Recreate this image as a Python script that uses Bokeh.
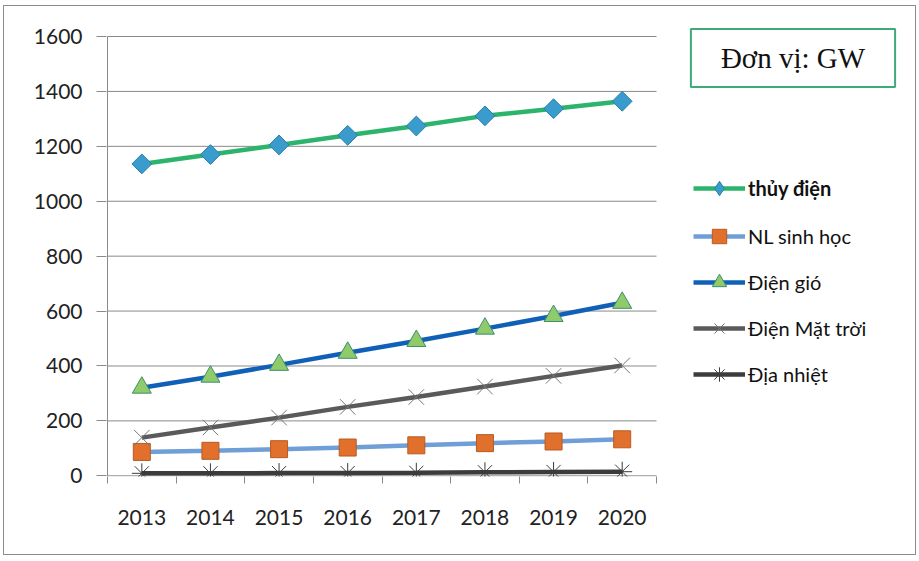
from bokeh.plotting import figure
from bokeh.models import Legend, LegendItem, Label, FixedTicker, Range1d
from bokeh.embed import file_html
from bokeh.resources import INLINE

years = [2013, 2014, 2015, 2016, 2017, 2018, 2019, 2020]
thuy_dien = [1136, 1170, 1205, 1240, 1274, 1311, 1337, 1364]
nl_sinh_hoc = [87, 91, 97, 103, 111, 119, 125, 133]
dien_gio = [321, 361, 404, 448, 491, 536, 582, 630]
dien_mat_troi = [139, 176, 212, 251, 287, 325, 364, 402]
dia_nhiet = [9, 9, 10, 10, 11, 13, 14, 15]
y_ticks = [0, 200, 400, 600, 800, 1000, 1200, 1400, 1600]
series_names = ["thủy điện", "NL sinh học", "Điện gió", "Điện Mặt trời", "Địa nhiệt"]
unit_text = "Đơn vị: GW"

FONT = "Lato"
GRID = "#8a8a8a"

x_lo = years[0] - 0.5
x_hi = years[-1] + 0.5
px_per_year = 549 / len(years)
# frame is wider and taller than the data area, so the legend and unit box sit inside it
frame_w = 913 - 102 - 8
x_start = x_lo - 1 / px_per_year
x_end = x_start + frame_w / px_per_year
px_per_unit = 440 / 1602.5
y_start = -2.5
y_end = y_start + 454 / px_per_unit

p = figure(width=913, height=550, output_backend="svg", toolbar_location=None,
           x_range=Range1d(x_start, x_end), y_range=Range1d(y_start, y_end),
           min_border_left=102, min_border_right=8, min_border_top=16, min_border_bottom=80)
p.styles = {"border": "1px solid #8c8c8c", "margin-left": "3px", "margin-top": "5px"}
p.outline_line_color = None
p.background_fill_color = "white"
p.border_fill_color = "white"

p.xgrid.grid_line_color = None
p.ygrid.grid_line_color = None

# horizontal grid lines (and the zero line) over the category span only
p.segment(x0=[x_lo] * len(y_ticks), x1=[x_hi] * len(y_ticks), y0=y_ticks, y1=y_ticks,
          line_color=GRID, line_width=1)
# vertical axis line from 0 to the top tick
p.segment(x0=[x_lo], x1=[x_lo], y0=[y_ticks[0]], y1=[y_ticks[-1]], line_color=GRID, line_width=1)

p.yaxis.ticker = FixedTicker(ticks=y_ticks)
p.yaxis.axis_line_color = None
p.yaxis.major_tick_line_color = GRID
p.yaxis.major_tick_out = 10
p.yaxis.major_tick_in = 0
p.yaxis.minor_tick_line_color = None
p.yaxis.major_label_text_font = FONT
p.yaxis.major_label_text_font_size = "21px"
p.yaxis.major_label_text_color = "#222222"
p.yaxis.major_label_standoff = 14

boundaries = [y - 0.5 for y in years] + [x_hi]
p.xaxis.ticker = FixedTicker(ticks=years, minor_ticks=boundaries)
p.xaxis.major_label_overrides = {y: str(y) for y in years}
p.xaxis.axis_line_color = None
p.xaxis.major_tick_line_color = None
p.xaxis.minor_tick_line_color = GRID
p.xaxis.minor_tick_out = 7
p.xaxis.minor_tick_in = 0
p.xaxis.major_label_text_font = FONT
p.xaxis.major_label_text_font_size = "21px"
p.xaxis.major_label_text_color = "#222222"
p.xaxis.major_label_standoff = 26

specs = [
    (thuy_dien, "#2db46c", "square", "#3a9ccc", "#2a7fa8", 14, 0.785398),
    (nl_sinh_hoc, "#6f9fd6", "square", "#e0702c", "#b85a22", 17, 0),
    (dien_gio, "#1160b8", "triangle", "#8fcb6a", "#3e8e6e", 19, 0),
    (dien_mat_troi, "#5a5a5a", "x", None, "#777777", 22, 0),
    (dia_nhiet, "#3c3c3c", "asterisk", None, "#3c3c3c", 20, 0),
]

items = []
for i, ((vals, lc, mk, fc, ec, sz, ang), name) in enumerate(zip(specs, series_names)):
    lr = p.line(years, vals, line_color=lc, line_width=4.5)
    if i == 0:
        # diamond used for the legend swatch, hidden under the rotated squares
        sw = p.scatter(years, vals, marker="diamond", size=18, fill_color=fc,
                       line_color=ec, line_width=1)
    sr = p.scatter(years, vals, marker=mk, size=sz, angle=ang, fill_color=fc,
                   line_color=ec, line_width=1)
    items.append(LegendItem(label=name, renderers=[lr, sw if i == 0 else sr]))

leg1 = Legend(items=items[:1], location=(587, 270), orientation="vertical")
leg2 = Legend(items=items[1:], location=(587, 84), orientation="vertical")
for lg in (leg1, leg2):
    lg.background_fill_alpha = 0
    lg.border_line_color = None
    lg.margin = 0
    lg.padding = 0
    lg.glyph_width = 52
    lg.glyph_height = 36
    lg.label_height = 36
    lg.spacing = 10
    lg.label_standoff = 3
    lg.label_text_font = FONT
    lg.label_text_font_size = "20px"
    lg.label_text_color = "#111111"
leg1.label_text_font_style = "bold"
p.add_layout(leg1, "center")
p.add_layout(leg2, "center")

unit = Label(x=686.5, y=418.5, x_units="screen", y_units="screen", text=unit_text,
             text_align="center", text_baseline="middle",
             text_font="Liberation Serif", text_font_size="29px", text_color="#111111",
             border_line_color="#3daa78", border_line_width=2,
             background_fill_color="white", padding=(30, 13))
p.add_layout(unit)

open("out.html", "w").write(file_html(p, INLINE))
